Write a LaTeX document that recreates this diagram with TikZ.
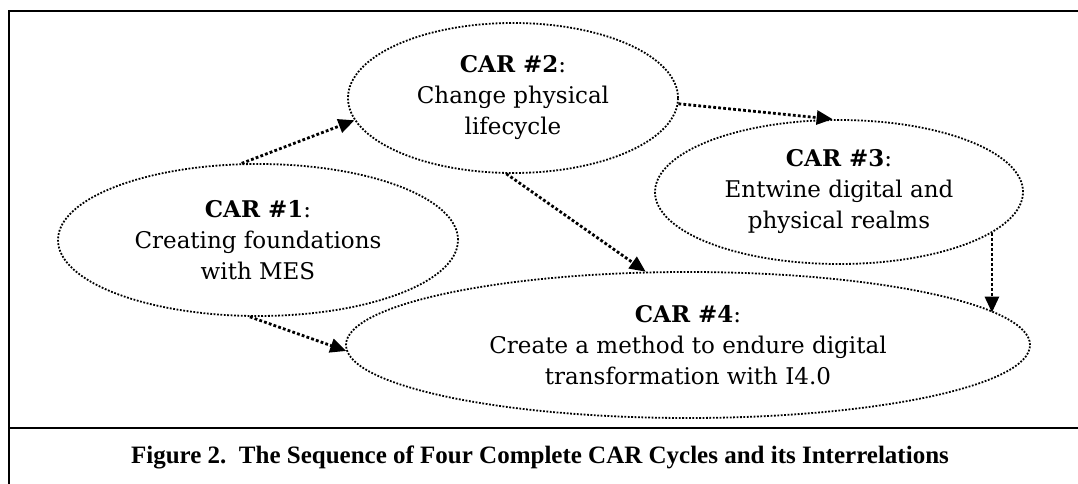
\documentclass[tikz,border=0pt]{standalone}
\usepackage{fontspec}
\setmainfont{DejaVu Serif}
\newfontfamily\capfont{Liberation Serif}
\usetikzlibrary{shapes.geometric,arrows.meta}

\begin{document}
\begin{tikzpicture}[x=1pt, y=-1pt,
    car/.style={ellipse, draw, line width=1.8pt, dash pattern=on 1.8pt off 1.6pt, inner sep=0pt, align=center, font=\fontsize{23}{31}\selectfont},
    flow/.style={line width=2.8pt, dash pattern=on 2.8pt off 2.2pt, -{Triangle[length=16pt,width=14pt]}}]
    \useasboundingbox (0,0) rectangle (1078,484);
    \draw[line width=2.6pt] (1078,11)--(9,11)--(9,484);
    \draw[line width=2.6pt] (9,428)--(1078,428);
    \node[car, minimum width=400pt, minimum height=152pt] (car1) at (258,240) {\textbf{CAR \#1}:\\Creating foundations\\with MES};
    \node[car, minimum width=330pt, minimum height=150pt] (car2) at (513,98) {\textbf{CAR \#2}:\\Change physical\\lifecycle};
    \node[car, minimum width=368pt, minimum height=144pt] (car3) at (839,192) {\textbf{CAR \#3}:\\Entwine digital and\\physical realms};
    \node[car, minimum width=684pt, minimum height=146pt] (car4) at (688,345) {\textbf{CAR \#4}:\\Create a method to endure digital\\transformation with I4.0};
    \node[font=\capfont\bfseries\fontsize{25}{28}\selectfont] (caption) at (540,457) {Figure 2.\ \ The Sequence of Four Complete CAR Cycles and its Interrelations};
    \draw[flow] (car1.102)--(car2.188);
    \draw[flow] (car2.-2)--(car3.95);
    \draw[flow] (car2.265)--(car4.120);
    \draw[flow] (car3.-15.8)--(car3.-15.8 |- car4.6.67);
    \draw[flow] (car1.264)--(car4.181);
  \end{tikzpicture}
\end{document}
